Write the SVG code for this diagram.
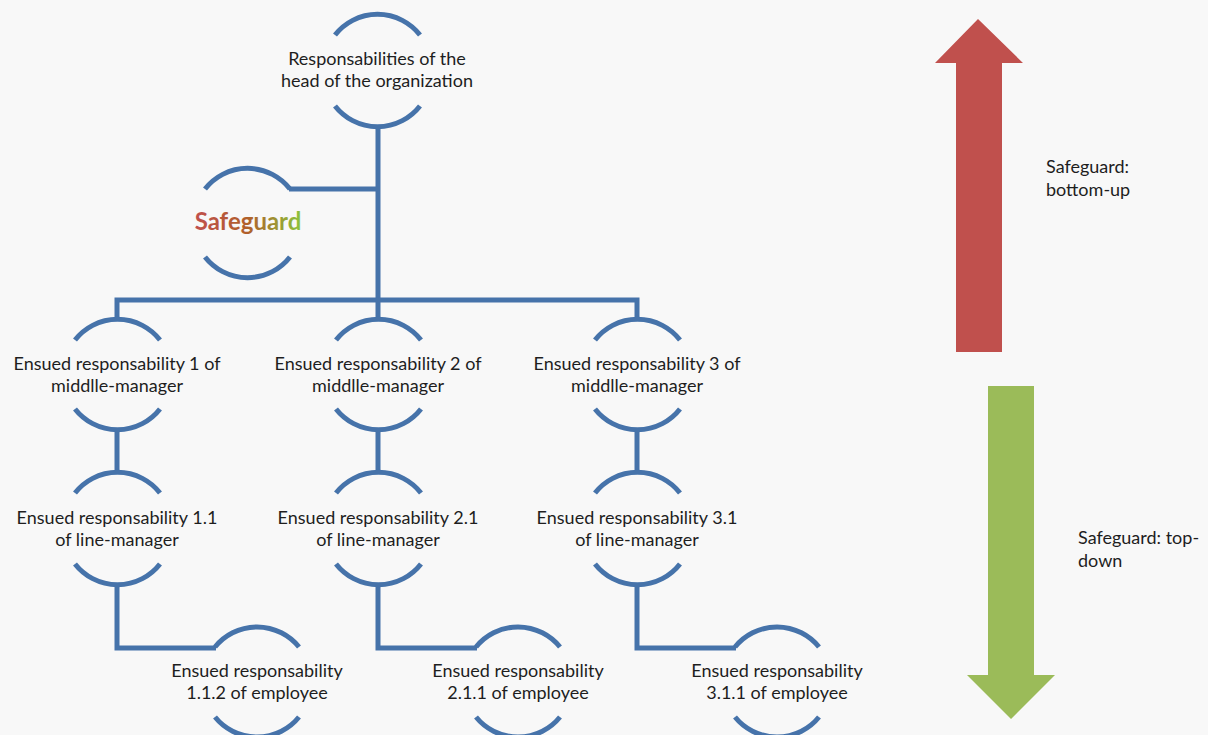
<svg xmlns="http://www.w3.org/2000/svg" width="1208" height="735" viewBox="0 0 1208 735">
  <defs>
    <style>
      .arc { fill: none; stroke: #4673aa; stroke-width: 5; stroke-linecap: butt; }
      .link { fill: none; stroke: #4673aa; stroke-width: 5; stroke-linejoin: miter; }
      .lbl { font-family: Lato, "Open Sans", "Liberation Sans", sans-serif; font-size: 18px; fill: #1e1e1e; text-anchor: middle; }
      .side { font-family: Lato, "Open Sans", "Liberation Sans", sans-serif; font-size: 18px; fill: #1e1e1e; }
    </style>
    <linearGradient id="sgGrad" x1="0" y1="0" x2="1" y2="0">
      <stop offset="0" stop-color="#c0504d"/>
      <stop offset="0.5" stop-color="#b0602a"/>
      <stop offset="1" stop-color="#8cc43c"/>
    </linearGradient>
  </defs>

  <rect width="1208" height="735" fill="#f8f8f8"/>

  <!-- connectors -->
  <g id="connectors">
    <path class="link" d="M378 126 V300"/>
    <path class="link" d="M289 189 H378"/>
    <path class="link" d="M117 321 V300 H637 V321"/>
    <path class="link" d="M378 300 V321"/>
    <path class="link" d="M117 428 V474"/>
    <path class="link" d="M378 428 V474"/>
    <path class="link" d="M637 428 V474"/>
    <path class="link" d="M117 583 V648 H216"/>
    <path class="link" d="M378 583 V648 H477"/>
    <path class="link" d="M637 583 V648 H736"/>
  </g>

  <!-- head -->
  <g id="node-head">
    <path class="arc" d="M335 35 A54 54 0 0 1 420 35"/>
    <path class="arc" d="M335 106 A54 54 0 0 0 420 106"/>
    <text class="lbl" x="377" y="65">Responsabilities of the</text>
    <text class="lbl" x="377" y="87">head of the organization</text>
  </g>

  <g id="node-safeguard">
    <path class="arc" d="M205 189 A54 54 0 0 1 290 189"/>
    <path class="arc" d="M205 257 A54 54 0 0 0 290 257"/>
    <text x="248" y="230" text-anchor="middle" font-family="Lato, 'Open Sans', 'Liberation Sans', sans-serif" font-size="24" font-weight="bold" fill="url(#sgGrad)">Safeguard</text>
  </g>

  <!-- middle managers -->
  <g id="node-mm1">
    <path class="arc" d="M75 340 A54 54 0 0 1 160 340"/>
    <path class="arc" d="M75 409 A54 54 0 0 0 160 409"/>
    <text class="lbl" x="117" y="370">Ensued responsability 1 of</text>
    <text class="lbl" x="117" y="392">middlle-manager</text>
  </g>
  <g id="node-mm2">
    <path class="arc" d="M336 340 A54 54 0 0 1 421 340"/>
    <path class="arc" d="M336 409 A54 54 0 0 0 421 409"/>
    <text class="lbl" x="378" y="370">Ensued responsability 2 of</text>
    <text class="lbl" x="378" y="392">middlle-manager</text>
  </g>
  <g id="node-mm3">
    <path class="arc" d="M595 340 A54 54 0 0 1 680 340"/>
    <path class="arc" d="M595 409 A54 54 0 0 0 680 409"/>
    <text class="lbl" x="637" y="370">Ensued responsability 3 of</text>
    <text class="lbl" x="637" y="392">middlle-manager</text>
  </g>

  <!-- line managers -->
  <g id="node-lm1">
    <path class="arc" d="M75 493 A54 54 0 0 1 160 493"/>
    <path class="arc" d="M75 564 A54 54 0 0 0 160 564"/>
    <text class="lbl" x="117" y="524">Ensued responsability 1.1</text>
    <text class="lbl" x="117" y="546">of line-manager</text>
  </g>
  <g id="node-lm2">
    <path class="arc" d="M336 493 A54 54 0 0 1 421 493"/>
    <path class="arc" d="M336 564 A54 54 0 0 0 421 564"/>
    <text class="lbl" x="378" y="524">Ensued responsability 2.1</text>
    <text class="lbl" x="378" y="546">of line-manager</text>
  </g>
  <g id="node-lm3">
    <path class="arc" d="M595 493 A54 54 0 0 1 680 493"/>
    <path class="arc" d="M595 564 A54 54 0 0 0 680 564"/>
    <text class="lbl" x="637" y="524">Ensued responsability 3.1</text>
    <text class="lbl" x="637" y="546">of line-manager</text>
  </g>

  <!-- employees -->
  <g id="node-emp1">
    <path class="arc" d="M215 647 A54 54 0 0 1 299 647"/>
    <path class="arc" d="M215 717 A54 54 0 0 0 299 717"/>
    <text class="lbl" x="257" y="677">Ensued responsability</text>
    <text class="lbl" x="257" y="699">1.1.2 of employee</text>
  </g>
  <g id="node-emp2">
    <path class="arc" d="M476 647 A54 54 0 0 1 560 647"/>
    <path class="arc" d="M476 717 A54 54 0 0 0 560 717"/>
    <text class="lbl" x="518" y="677">Ensued responsability</text>
    <text class="lbl" x="518" y="699">2.1.1 of employee</text>
  </g>
  <g id="node-emp3">
    <path class="arc" d="M735 647 A54 54 0 0 1 819 647"/>
    <path class="arc" d="M735 717 A54 54 0 0 0 819 717"/>
    <text class="lbl" x="777" y="677">Ensued responsability</text>
    <text class="lbl" x="777" y="699">3.1.1 of employee</text>
  </g>

  <!-- direction arrows -->
  <g id="arrow-up">
    <polygon points="978,19 1023,63 1002,63 1002,352 956,352 956,63 935,63" fill="#c0504d"/>
    <text class="side" x="1046" y="173">Safeguard:</text>
    <text class="side" x="1046" y="196">bottom-up</text>
  </g>
  <g id="arrow-down">
    <polygon points="988,386 1034,386 1034,675 1055,675 1011,719 967,675 988,675" fill="#9bbb59"/>
    <text class="side" x="1078" y="544">Safeguard: top-</text>
    <text class="side" x="1078" y="567">down</text>
  </g>
</svg>
